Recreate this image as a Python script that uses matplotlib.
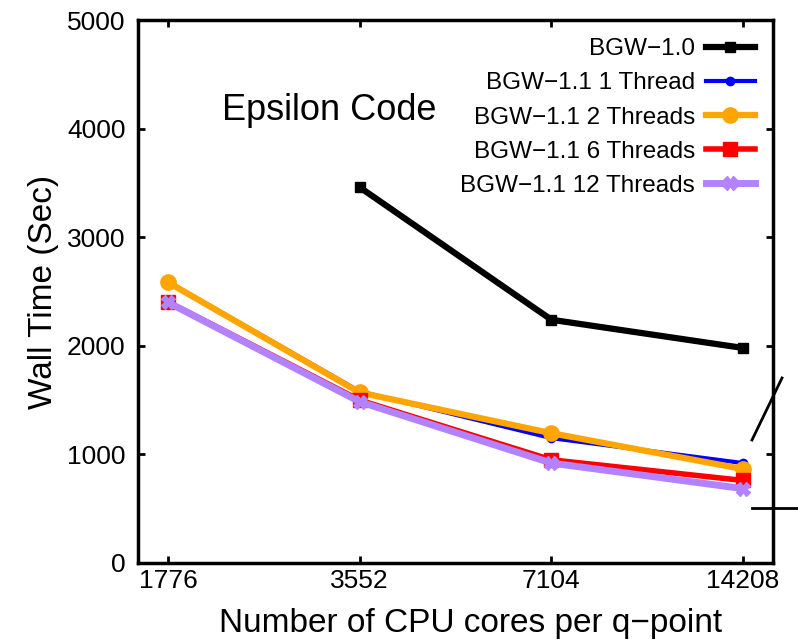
import matplotlib
matplotlib.use("Agg")
import matplotlib.pyplot as plt
from matplotlib.lines import Line2D

plt.rcParams['font.family'] = ['Liberation Sans', 'DejaVu Sans']

cores = ["1776", "3552", "7104", "14208"]
bgw10 = [None, 3460, 2240, 1980]
t1 = [2590, 1580, 1150, 920]
t2 = [2585, 1570, 1195, 865]
t6 = [2405, 1500, 950, 760]
t12 = [2400, 1485, 920, 685]

series = [
    ("BGW\u22121.0", bgw10, "black", "s", 7, 4.5),
    ("BGW\u22121.1 1 Thread", t1, "#0000ff", "o", 6, 3),
    ("BGW\u22121.1 2 Threads", t2, "orange", "o", 11, 4.5),
    ("BGW\u22121.1 6 Threads", t6, "red", "s", 10, 4),
    ("BGW\u22121.1 12 Threads", t12, "#b382ff", "X", 10, 5),
]

fig = plt.figure(figsize=(7.98, 6.44), dpi=100)
ax = fig.add_axes([138/798, 1-563/644, (773-138)/798, (563-20)/644])

xs = list(range(len(cores)))
for name, vals, col, mk, ms, lw in series:
    px = [x for x, v in zip(xs, vals) if v is not None]
    py = [v for v in vals if v is not None]
    ax.plot(px, py, color=col, marker=mk, markersize=ms, linewidth=lw,
            label=name, markeredgecolor=col)

ax.set_xlim(-0.156, 3.156)
ax.set_ylim(0, 5000)
ax.set_xticks(xs)
ax.set_xticklabels(cores)
ax.set_yticks(range(0, 5001, 1000))
ax.tick_params(direction='in', length=5, width=2, top=True, right=True,
               labelsize=19)
ax.tick_params(axis='y', pad=9)
ax.tick_params(axis='x', pad=4)
for s in ax.spines.values():
    s.set_linewidth(2.5)

ax.set_xlabel("Number of CPU cores per q\u2212point", fontsize=24, labelpad=11)
ax.xaxis.label.set_x(0.523)
ax.set_ylabel("Wall Time (Sec)", fontsize=24, labelpad=6)
ax.text(0.28, 4170, "Epsilon Code", fontsize=26, va='center', ha='left')

ax.legend(loc='upper right', markerfirst=False, frameon=False, fontsize=17.5,
          handlelength=2.0, labelspacing=0.5, borderaxespad=0.35,
          handletextpad=0.45)

# stray strokes from the neighbouring panel at the right edge
fig.add_artist(Line2D([752/798, 782/798], [1-440/644, 1-378/644],
                      color='black', linewidth=2, transform=fig.transFigure))
fig.add_artist(Line2D([752/798, 798/798], [1-508/644, 1-508/644],
                      color='black', linewidth=2, transform=fig.transFigure))

fig.savefig("out.png", dpi=100)
